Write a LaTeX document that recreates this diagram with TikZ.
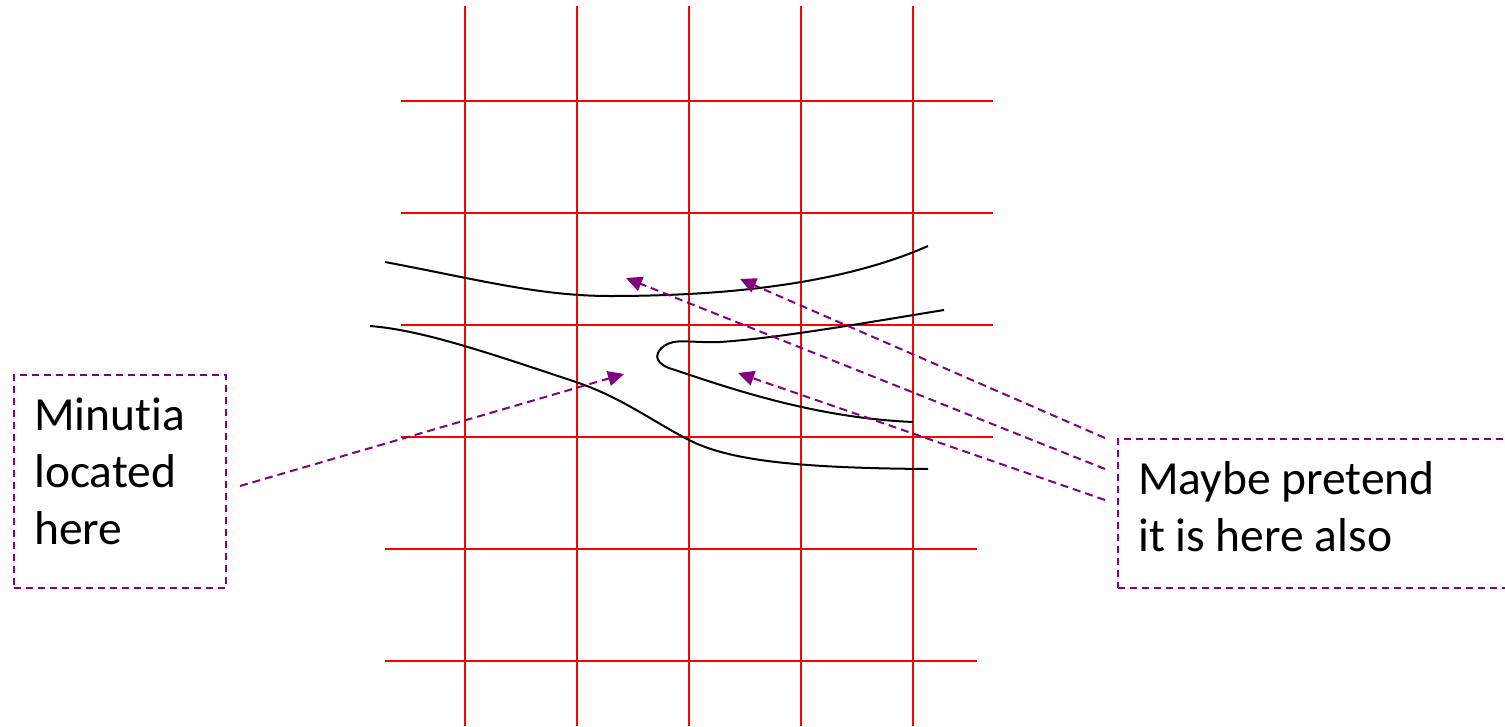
\documentclass[tikz,border=0pt]{standalone}
\usepackage{fontspec}
\setmainfont{Carlito}[Ligatures={NoCommon}]
\usetikzlibrary{arrows.meta}
\definecolor{lineRed}{RGB}{255,0,0}
\definecolor{notePurple}{RGB}{128,0,128}
\tikzset{
  gridline/.style={draw=lineRed, line width=2pt},
  ridge/.style={draw=black, line width=2pt},
  notebox/.style={draw=notePurple, line width=2pt, dash pattern=on 7pt off 5pt, inner sep=0pt},
  pointer/.style={draw=notePurple, line width=2pt, dash pattern=on 8pt off 5pt, -{Triangle[length=16pt,width=15pt]}},
  notetext/.style={font=\fontsize{47.5}{57}\selectfont, align=left, inner sep=0pt, anchor=base west}
}
\begin{document}
\begin{tikzpicture}[x=1pt,y=-1pt]
\useasboundingbox (0,0) rectangle (1505,726);
% grid
\foreach \gx in {465,577,689,801,913} \draw[gridline] (\gx,6) -- (\gx,726);
\foreach \gy in {101,213,325,437} \draw[gridline] (401,\gy) -- (993,\gy);
\foreach \gy in {549,661} \draw[gridline] (385,\gy) -- (977,\gy);
% ridges
\draw[ridge] (385,262) .. controls (480,280) and (540,296) .. (610,296)
  .. controls (760,296) and (860,276) .. (928,246);
\draw[ridge] (944,310) .. controls (870,322) and (780,338) .. (720,342)
  .. controls (690,343) and (675,338) .. (664,346)
  .. controls (652,355) and (656,365) .. (675,370)
  .. controls (740,392) and (820,418) .. (913,422);
\draw[ridge] (370,326) .. controls (420,330) and (480,350) .. (570,380)
  .. controls (620,396) and (650,420) .. (689,440)
  .. controls (730,461) and (800,468) .. (928,469);
% boxes
\node[notebox, minimum width=212pt, minimum height=213pt] (lbox) at (120,481.5) {};
\node[notebox, minimum width=400pt, minimum height=149pt] (rbox) at (1318,513.5) {};
\node[notetext] (ltext) at (34,544) {Minutia\\located\\here};
\node[notetext] (rtext) at (1138,551) {Maybe pretend\\it is here also};
% pointer ends
\coordinate (ls) at (240,486);
\coordinate (lt) at (624,374);
\coordinate (r1s) at (1105,438);
\coordinate (r1t) at (740,279);
\coordinate (r2s) at (1105,469);
\coordinate (r2t) at (626,278);
\coordinate (r3s) at (1105,500);
\coordinate (r3t) at (738,373);
\draw[pointer] (ls) -- (lt);
\draw[pointer] (r1s) -- (r1t);
\draw[pointer] (r2s) -- (r2t);
\draw[pointer] (r3s) -- (r3t);
\end{tikzpicture}
\end{document}
